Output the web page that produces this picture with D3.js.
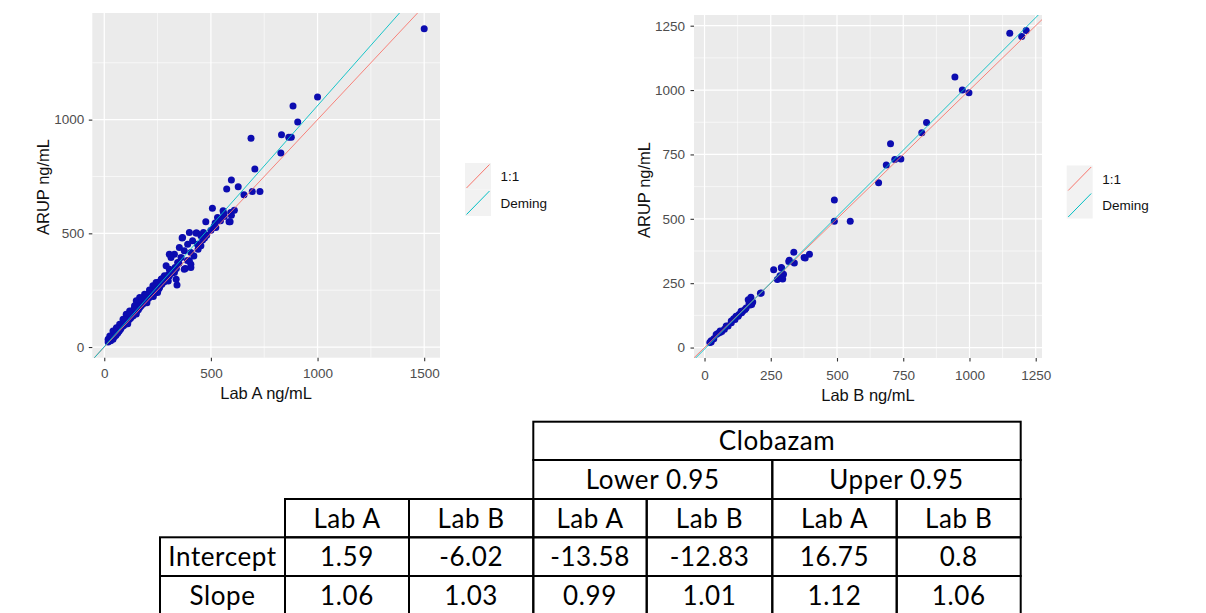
<!DOCTYPE html>
<html>
<head>
<meta charset="utf-8">
<script src="https://cdn.jsdelivr.net/npm/d3@7"></script>
<style>
  body { margin: 0; background: #fff; }
  svg { display: block; }
</style>
</head>
<body>
<svg id="chart" width="1206" height="613"></svg>
<script>
// ---- data ----
// Lab A vs ARUP (ng/mL)
let labA_points = [
    [1500, 1400], [1000, 1100], [885, 1060], [907, 990], [877, 922], [865, 922], [831, 933], [828, 853],
    [688, 918], [706, 783], [694, 684], [730, 684], [655, 670], [628, 705], [596, 734], [574, 695],
    [596, 580], [585, 551], [557, 599], [531, 570], [507, 610], [476, 551], [515, 530], [500, 514],
    [465, 504], [434, 501], [399, 504], [365, 480], [414, 467], [461, 471], [453, 445], [406, 364],
    [380, 345], [341, 273], [290, 357], [305, 408], [593, 592], [562, 574], [538, 563], [590, 551],
    [523, 526], [430, 501], [453, 489], [367, 482], [391, 452], [437, 452], [352, 438], [375, 423],
    [329, 408], [406, 416], [313, 394], [360, 394], [399, 379], [344, 372], [305, 342], [406, 350],
    [375, 342], [329, 328], [282, 313], [337, 298], [267, 298], [243, 284], [228, 269], [259, 262],
    [212, 251], [235, 240], [189, 232], [166, 218], [204, 218], [150, 203], [181, 196], [142, 181],
    [166, 174], [119, 159], [103, 144], [134, 137], [88, 122], [111, 115], [72, 100], [57, 85],
    [80, 85], [41, 70], [64, 63], [26, 48], [18, 34], [41, 34], [470, 480], [520, 545], [545, 555],
    [440, 430], [420, 400], [390, 380], [480, 492], [560, 588], [610, 602],
    [18, 22], [22, 30], [26, 34], [30, 28], [34, 40], [38, 44], [44, 50], [48, 46], [52, 58], [55, 52],
    [58, 66], [60, 60], [66, 74], [70, 70], [72, 82], [76, 78], [84, 92], [86, 98], [90, 94],
    [94, 104], [98, 100], [100, 112], [104, 108], [108, 118], [114, 124], [118, 122], [120, 132],
    [124, 128], [128, 140], [132, 136], [134, 146], [138, 142], [142, 152], [146, 150], [150, 160],
    [152, 156], [156, 168], [160, 164], [162, 176], [166, 180], [170, 184], [172, 180], [176, 190],
    [180, 188], [181, 198], [185, 194], [189, 206], [192, 200], [196, 212], [200, 208], [204, 220],
    [208, 214], [212, 228], [216, 222], [220, 232], [224, 228], [228, 240], [232, 236], [235, 246],
    [240, 242], [243, 254], [248, 250], [252, 262], [256, 256], [259, 266], [262, 270], [267, 282],
    [270, 276], [275, 290], [280, 286], [282, 300], [286, 296], [290, 310], [295, 304], [300, 318],
    [305, 312], [310, 330], [315, 324], [320, 336], [325, 340], [332, 350], [338, 345], [350, 368],
    [120, 150], [140, 170], [175, 215], [195, 230], [215, 245], [240, 270], [255, 285], [270, 300],
    [150, 145], [200, 195], [250, 240], [300, 290], [95, 118], [60, 78], [110, 102], [230, 222]
];

// Lab B vs ARUP (ng/mL)
let labB_points = [
    [1152, 1221], [1214, 1231], [1197, 1208], [945, 1051], [973, 1000], [998, 990], [838, 874],
    [820, 834], [702, 792], [686, 709], [718, 730], [741, 732], [657, 640], [490, 573], [490, 491],
    [550, 491], [337, 370], [396, 362], [376, 350], [380, 348], [318, 334], [339, 328], [320, 339],
    [261, 302], [291, 308], [290, 311], [298, 285], [283, 270], [275, 264], [295, 266], [285, 279],
    [211, 211], [214, 212], [175, 195], [182, 177], [178, 167], [168, 169], [165, 186], [172, 165],
    [157, 154], [153, 148], [140, 135], [138, 141], [130, 128], [145, 142], [127, 122], [119, 122],
    [115, 109], [110, 112], [101, 103], [101, 96], [89, 84], [82, 84], [75, 71], [65, 62], [59, 64],
    [58, 58], [50, 55], [44, 51], [35, 34], [25, 22], [25, 26], [20, 20]
];

// Deming regression results + confidence limits (table)
let tableTitle = "Clobazam";
let groupLabels = ["Lower 0.95", "Upper 0.95"];
let labLabels = ["Lab A", "Lab B", "Lab A", "Lab B", "Lab A", "Lab B"];
let rowLabels = ["Intercept", "Slope"];
let interceptVals = ["1.59", "-6.02", "-13.58", "-12.83", "16.75", "0.8"];
let slopeVals = ["1.06", "1.03", "0.99", "1.01", "1.12", "1.06"];

let legendLabels = ["1:1", "Deming"];
let labA_ticks = [0, 500, 1000, 1500];
let labA_yticks = [0, 500, 1000];
let labB_ticks = [0, 250, 500, 750, 1000, 1250];

// ---- styles ----
let panel_bg = "#EBEBEB";
let one_color = "#F8766D";
let deming_color = "#00BFC4";
let point_color = "#0c0cb0";
let tick_font = '"Liberation Sans", Arial, sans-serif';

let svg = d3.select("#chart");
svg.append("rect").attr("width", 1206).attr("height", 613).attr("fill", "#fff");

function scatterPlot(cfg) {
    let g = svg.append("g");

    // ggplot-style 5% expansion
    let xe = d3.extent(cfg.points, d => d[0]);
    let ye = d3.extent(cfg.points, d => d[1]);
    let xp = (xe[1] - xe[0]) * 0.05, yp = (ye[1] - ye[0]) * 0.05;
    let x = d3.scaleLinear().domain([xe[0] - xp, xe[1] + xp]).range([cfg.left, cfg.right]);
    let y = d3.scaleLinear().domain([ye[0] - yp, ye[1] + yp]).range([cfg.bottom, cfg.top]);

    g.append("rect")
        .attr("x", cfg.left).attr("y", cfg.top)
        .attr("width", cfg.right - cfg.left).attr("height", cfg.bottom - cfg.top)
        .attr("fill", panel_bg);

    // minor grid at midpoints between breaks
    let step_x = cfg.xticks[1] - cfg.xticks[0];
    let step_y = cfg.yticks[1] - cfg.yticks[0];
    let minor_x = d3.range(cfg.xticks[0] - step_x / 2, x.domain()[1], step_x).filter(v => v > x.domain()[0]);
    let minor_y = d3.range(cfg.yticks[0] - step_y / 2, y.domain()[1], step_y).filter(v => v > y.domain()[0]);

    g.selectAll(".minx").data(minor_x).enter().append("line")
        .attr("x1", d => x(d)).attr("x2", d => x(d))
        .attr("y1", cfg.top).attr("y2", cfg.bottom)
        .attr("stroke", "#fff").attr("stroke-width", 0.6);
    g.selectAll(".miny").data(minor_y).enter().append("line")
        .attr("y1", d => y(d)).attr("y2", d => y(d))
        .attr("x1", cfg.left).attr("x2", cfg.right)
        .attr("stroke", "#fff").attr("stroke-width", 0.6);
    g.selectAll(".majx").data(cfg.xticks).enter().append("line")
        .attr("x1", d => x(d)).attr("x2", d => x(d))
        .attr("y1", cfg.top).attr("y2", cfg.bottom)
        .attr("stroke", "#fff").attr("stroke-width", 1.2);
    g.selectAll(".majy").data(cfg.yticks).enter().append("line")
        .attr("y1", d => y(d)).attr("y2", d => y(d))
        .attr("x1", cfg.left).attr("x2", cfg.right)
        .attr("stroke", "#fff").attr("stroke-width", 1.2);

    let clipId = "clip-" + cfg.id;
    g.append("clipPath").attr("id", clipId).append("rect")
        .attr("x", cfg.left).attr("y", cfg.top)
        .attr("width", cfg.right - cfg.left).attr("height", cfg.bottom - cfg.top);

    // points
    g.append("g").selectAll("circle").data(cfg.points).enter().append("circle")
        .attr("cx", d => x(d[0])).attr("cy", d => y(d[1]))
        .attr("r", 3.5).attr("fill", point_color);

    // 1:1 and Deming lines
    let lines = [
        { a: 0, b: 1, color: one_color },
        { a: cfg.intercept, b: cfg.slope, color: deming_color }
    ];
    let xd = x.domain();
    g.append("g").attr("clip-path", "url(#" + clipId + ")")
        .selectAll("line").data(lines).enter().append("line")
        .attr("x1", x(xd[0])).attr("x2", x(xd[1]))
        .attr("y1", d => y(d.a + d.b * xd[0]))
        .attr("y2", d => y(d.a + d.b * xd[1]))
        .attr("stroke", d => d.color).attr("stroke-width", 0.9);

    // axes
    let fmt = d3.format("d");
    let xAxis = d3.axisBottom(x).tickValues(cfg.xticks).tickFormat(fmt).tickSize(3.5).tickPadding(cfg.xpad);
    let yAxis = d3.axisLeft(y).tickValues(cfg.yticks).tickFormat(fmt).tickSize(3.5).tickPadding(cfg.ypad);
    let xg = g.append("g").attr("transform", "translate(0," + cfg.bottom + ")").call(xAxis);
    let yg = g.append("g").attr("transform", "translate(" + cfg.left + ",0)").call(yAxis);
    [xg, yg].forEach(a => {
        a.select(".domain").remove();
        a.selectAll(".tick line").attr("stroke", "#333").attr("stroke-width", 1.1);
        a.selectAll(".tick text").attr("fill", "#4d4d4d")
            .style("font-family", tick_font).style("font-size", "13.5px");
    });

    // axis titles
    g.append("text")
        .attr("x", (cfg.left + cfg.right) / 2 + cfg.xtitle_dx).attr("y", cfg.xtitle_y)
        .attr("text-anchor", "middle")
        .style("font-family", tick_font).style("font-size", "16.5px").attr("fill", "#111")
        .text(cfg.xtitle);
    g.append("text")
        .attr("transform", "translate(" + cfg.ytitle_x + "," + cfg.ytitle_cy + ") rotate(-90)")
        .attr("text-anchor", "middle")
        .style("font-family", tick_font).style("font-size", "16.5px").attr("fill", "#111")
        .text("ARUP ng/mL");

    // legend
    let keyW = 26, keyH = 26.5;
    let leg = g.append("g").attr("transform", "translate(" + cfg.legend_x + "," + cfg.legend_y + ")");
    let keys = leg.selectAll("g").data(legendLabels).enter().append("g")
        .attr("transform", (d, i) => "translate(0," + i * keyH + ")");
    keys.append("rect").attr("width", keyW).attr("height", keyH).attr("fill", "#F2F2F2");
    keys.append("line")
        .attr("x1", 1.5).attr("y1", keyH - 1.5).attr("x2", keyW - 1.5).attr("y2", 1.5)
        .attr("stroke", (d, i) => lines[i].color).attr("stroke-width", 1);
    keys.append("text")
        .attr("x", keyW + 9.5).attr("y", keyH / 2 + 5)
        .style("font-family", tick_font).style("font-size", "13.5px").attr("fill", "#111")
        .text(d => d);
}

scatterPlot({
    id: "a", points: labA_points, intercept: +interceptVals[0], slope: +slopeVals[0],
    left: 92.3, right: 440, top: 13, bottom: 357.7,
    xticks: labA_ticks, yticks: labA_yticks, xpad: 7.5, ypad: 4.5,
    xtitle: "Lab A ng/mL", xtitle_dx: 0, xtitle_y: 399, ytitle_x: 49, ytitle_cy: 187,
    legend_x: 465, legend_y: 163
});

scatterPlot({
    id: "b", points: labB_points, intercept: +interceptVals[1], slope: +slopeVals[1],
    left: 694, right: 1042, top: 15, bottom: 358,
    xticks: labB_ticks, yticks: labB_ticks, xpad: 9, ypad: 5.5,
    xtitle: "Lab B ng/mL", xtitle_dx: 0, xtitle_y: 400.5, ytitle_x: 650, ytitle_cy: 190,
    legend_x: 1066.7, legend_y: 165.5
});

// ---- table ----
let colEdges = [160, 285, 409, 533.3, 646.7, 772.3, 896.7, 1020.7];
let rowEdges = [421.7, 460, 499, 537.3, 576, 614.5];

let cells = [{ r: 0, c0: 3, c1: 7, text: tableTitle }];
groupLabels.forEach((t, i) => cells.push({ r: 1, c0: 3 + i * 2, c1: 5 + i * 2, text: t }));
labLabels.forEach((t, i) => cells.push({ r: 2, c0: i + 1, c1: i + 2, text: t }));
[interceptVals, slopeVals].forEach((vals, k) => {
    cells.push({ r: 3 + k, c0: 0, c1: 1, text: rowLabels[k] });
    vals.forEach((t, i) => cells.push({ r: 3 + k, c0: i + 1, c1: i + 2, text: t }));
});

let tbl = svg.append("g");
tbl.selectAll("rect").data(cells).enter().append("rect")
    .attr("x", d => colEdges[d.c0]).attr("y", d => rowEdges[d.r])
    .attr("width", d => colEdges[d.c1] - colEdges[d.c0])
    .attr("height", d => rowEdges[d.r + 1] - rowEdges[d.r])
    .attr("fill", "none").attr("stroke", "#000").attr("stroke-width", 2);
tbl.selectAll("text").data(cells).enter().append("text")
    .attr("x", d => (colEdges[d.c0] + colEdges[d.c1]) / 2)
    .attr("y", d => (rowEdges[d.r] + rowEdges[d.r + 1]) / 2 + 9.5)
    .attr("text-anchor", "middle")
    .style("font-family", "Lato, 'Open Sans', sans-serif").style("font-size", "26px")
    .style("letter-spacing", "0.6px")
    .attr("fill", "#000")
    .text(d => d.text);
</script>
</body>
</html>
